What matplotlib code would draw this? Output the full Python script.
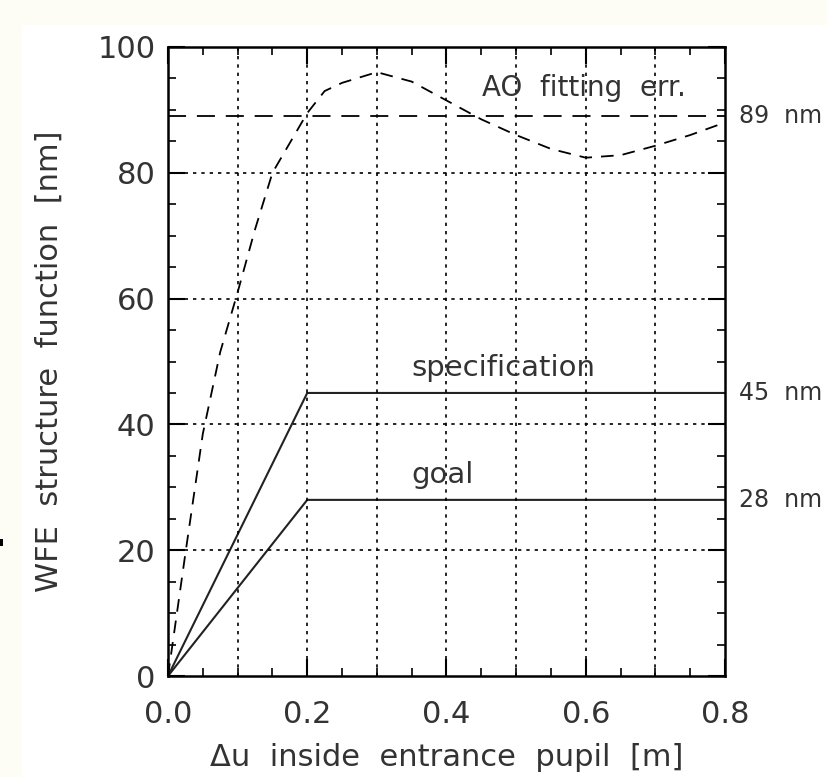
import matplotlib
matplotlib.use("Agg")
from matplotlib import pyplot as plt
from matplotlib.patches import Rectangle
import numpy as np

# AO fitting error structure function (dashed curve)
du_ao = [0.0, 0.025, 0.05, 0.075, 0.1, 0.125, 0.15, 0.2, 0.225, 0.25, 0.3,
         0.35, 0.4, 0.45, 0.5, 0.55, 0.6, 0.65, 0.7, 0.75, 0.8]
wfe_ao = [0.0, 19.5, 38.5, 51.5, 61.0, 71.0, 80.0, 89.5, 93.0, 94.3, 96.0,
          94.5, 91.5, 88.5, 86.0, 83.8, 82.4, 82.8, 84.3, 86.0, 88.0]

# specification and goal curves
du_req = [0.0, 0.2, 0.8]
wfe_spec = [0.0, 45.0, 45.0]
wfe_goal = [0.0, 28.0, 28.0]

ao_level = 89
right_labels = [(89, "89  nm"), (45, "45  nm"), (28, "28  nm")]

txt_col = "#333333"

fig = plt.figure(figsize=(8.28, 7.77), dpi=100, facecolor="#fdfcf5")
fig.patches.append(Rectangle((22 / 828, 0), 1, 1 - 25 / 777, transform=fig.transFigure,
                             facecolor="white", edgecolor="none", zorder=-10))
fig.patches.append(Rectangle((0, 1 - 546 / 777), 3 / 828, 7 / 777, transform=fig.transFigure,
                             facecolor="black", edgecolor="none"))

ax = fig.add_axes([168 / 828, 1 - 676 / 777, 557 / 828, 629 / 777])
ax.set_xlim(0, 0.8)
ax.set_ylim(0, 100)

ax.plot(du_ao, wfe_ao, color="black", lw=1.3, dashes=(7, 5))
ax.axhline(ao_level, color="black", lw=1.3, dashes=(10, 6))
ax.plot(du_req, wfe_spec, color="#222222", lw=1.5)
ax.plot(du_req, wfe_goal, color="#222222", lw=1.5)

ax.set_xticks(np.arange(0, 0.81, 0.2))
ax.set_xticks(np.arange(0, 0.81, 0.05), minor=True)
ax.set_yticks(np.arange(0, 101, 20))
ax.set_yticks(np.arange(0, 101, 5), minor=True)
ax.set_xticklabels(["0.0", "0.2", "0.4", "0.6", "0.8"])

for x in np.arange(0.1, 0.75, 0.1):
    ax.axvline(x, color="black", lw=1.2, ls=(0, (2, 3)))
for y in [20, 40, 60, 80]:
    ax.axhline(y, color="black", lw=1.2, ls=(0, (2, 3)))

ax.tick_params(which="both", direction="in", top=True, right=True,
               labelsize=22, labelcolor=txt_col)
ax.tick_params(axis="x", which="major", pad=17)
ax.tick_params(axis="y", which="major", pad=9)
ax.tick_params(which="major", length=12, width=1.5)
ax.tick_params(which="minor", length=6, width=1.2)
for s in ax.spines.values():
    s.set_linewidth(1.8)

ax.set_xlabel("Δu  inside  entrance  pupil  [m]", fontsize=22, color=txt_col, labelpad=10)
ax.set_ylabel("WFE  structure  function  [nm]", fontsize=22, color=txt_col, labelpad=24)

ax.text(0.597, 93.5, "AO  fitting  err.", fontsize=20, color=txt_col, ha="center", va="center")
ax.text(0.482, 49.0, "specification", fontsize=21, color=txt_col, ha="center", va="center")
ax.text(0.394, 32.0, "goal", fontsize=21, color=txt_col, ha="center", va="center")

for yv, lab in right_labels:
    ax.text(1.025, yv, lab, transform=ax.get_yaxis_transform(), fontsize=17,
            color=txt_col, ha="left", va="center", clip_on=False)

fig.savefig("out.png", dpi=100, facecolor=fig.get_facecolor())
